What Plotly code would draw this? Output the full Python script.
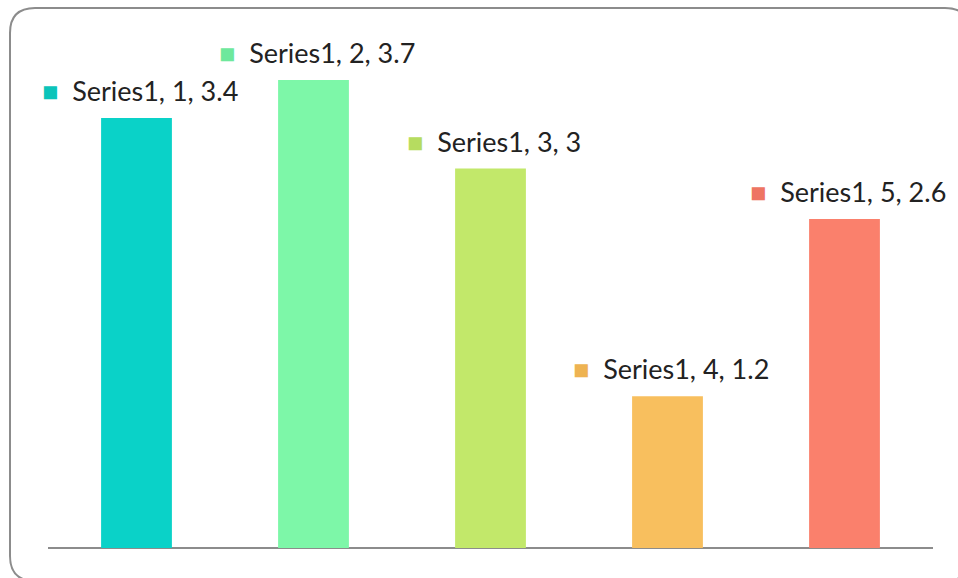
import plotly.graph_objects as go

categories = [1, 2, 3, 4, 5]
values = [3.4, 3.7, 3.0, 1.2, 2.6]
series_name = "Series1"
bar_colors = ["#0AD2C8", "#7DF7A8", "#C2E86A", "#F8BF5E", "#FA806C"]
key_colors = ["#0BC4BA", "#6EE89C", "#B6DC60", "#EEB352", "#EE7562"]

W, H = 958, 578
ML, MR, MT, MB = 48, 25, 42, 30
PW, PH = W - ML - MR, H - MT - MB

def px(x):
    return (x - ML) / PW

def py(y):
    return (H - MB - y) / PH

fig = go.Figure()
fig.add_trace(go.Bar(
    x=categories, y=values,
    marker=dict(color=bar_colors, line=dict(width=0)),
    width=0.4, hoverinfo="skip", showlegend=False,
))

FONT = "Lato"
for c, v, kc in zip(categories, values, key_colors):
    fig.add_annotation(
        x=c, y=v, xref="x", yref="y",
        text=f"<span style='color:{kc};font-size:27px'>■</span>&nbsp; {series_name}, {c}, {v:g}",
        showarrow=False, xanchor="center", yanchor="bottom", yshift=9, xshift=3,
        font=dict(family=FONT, size=27, color="#222222"),
    )

# rounded border
L, T, R, B, r = 10, 8, 970, 581, 25
path = (f"M {px(L)},{py(T + r)} Q {px(L)},{py(T)} {px(L + r)},{py(T)} "
        f"L {px(R - r)},{py(T)} Q {px(R)},{py(T)} {px(R)},{py(T + r)} "
        f"L {px(R)},{py(B - r)} Q {px(R)},{py(B)} {px(R - r)},{py(B)} "
        f"L {px(L + r)},{py(B)} Q {px(L)},{py(B)} {px(L)},{py(B - r)} Z")
fig.add_shape(type="path", path=path, xref="paper", yref="paper",
              line=dict(color="#8C8C8C", width=2), layer="above")

fig.update_layout(
    width=W, height=H,
    margin=dict(l=ML, r=MR, t=MT, b=MB),
    paper_bgcolor="white", plot_bgcolor="white",
    xaxis=dict(range=[0.5, 5.5], showticklabels=False, ticks="", showgrid=False,
               zeroline=False, showline=False, fixedrange=True),
    yaxis=dict(range=[0, 4], showticklabels=False, ticks="", showgrid=False,
               zeroline=True, zerolinecolor="#8C8C8C", zerolinewidth=2,
               showline=False, fixedrange=True),
)

fig.write_html("out.html", config={"displayModeBar": False},
               post_script="document.body.style.margin='0';document.body.style.overflow='hidden';")
